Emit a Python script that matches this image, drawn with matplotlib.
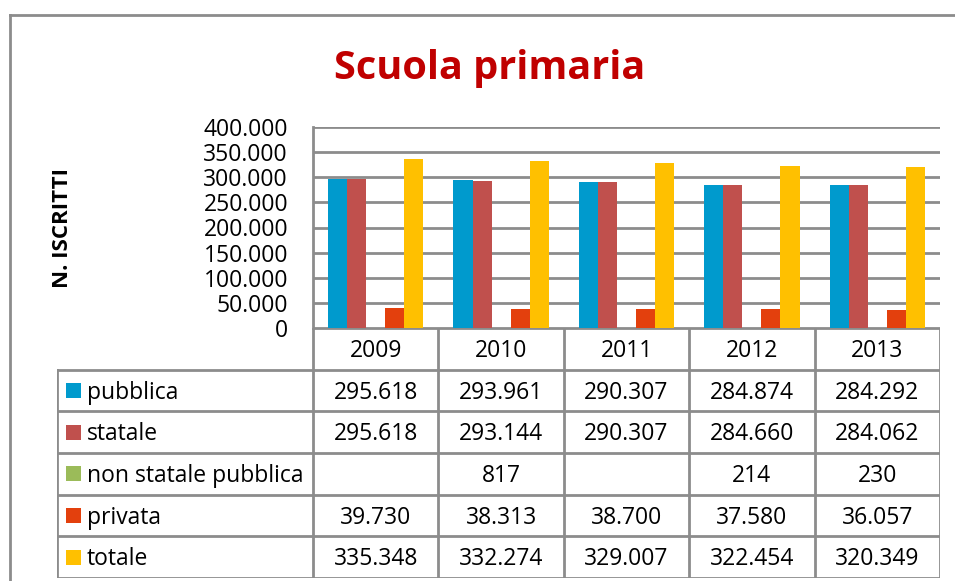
import matplotlib
matplotlib.use("Agg")
import matplotlib.pyplot as plt
import numpy as np
from matplotlib.lines import Line2D
from matplotlib.patches import Rectangle

years = ["2009", "2010", "2011", "2012", "2013"]
series_names = ["pubblica", "statale", "non statale pubblica", "privata", "totale"]
pubblica = [295618, 293961, 290307, 284874, 284292]
statale = [295618, 293144, 290307, 284660, 284062]
non_statale_pubblica = [np.nan, 817, np.nan, 214, 230]
privata = [39730, 38313, 38700, 37580, 36057]
totale = [335348, 332274, 329007, 322454, 320349]
yticks = [0, 50000, 100000, 150000, 200000, 250000, 300000, 350000, 400000]

series_values = [pubblica, statale, non_statale_pubblica, privata, totale]
colors = ["#009ACD", "#C0504D", "#9BBB59", "#E3400D", "#FFC000"]
GRID = "#8C8C8C"
FONT = "Open Sans"
FS = 16.5

def fmt(v):
    if v is None or (isinstance(v, float) and np.isnan(v)):
        return ""
    return f"{int(v):,}".replace(",", ".")

W, H = 955, 581
fig = plt.figure(figsize=(W / 100, H / 100), dpi=100)
plt.rcParams['font.family'] = [FONT, 'DejaVu Sans']

def fx(px):
    return px / W

def fy(py):
    return 1 - py / H

# outer chart border (cropped on right/bottom)
fig.add_artist(Line2D([fx(10), fx(10)], [fy(15), fy(600)], color=GRID, lw=2, transform=fig.transFigure))
fig.add_artist(Line2D([fx(10), fx(970)], [fy(15), fy(15)], color=GRID, lw=2, transform=fig.transFigure))

# title
fig.text(fx(490), fy(68), "Scuola primaria", ha="center", va="center",
         fontsize=28.5, fontweight="bold", color="#C00000")

# bar axes
L, R, T, B = 313, 940, 127, 328
ax = fig.add_axes([fx(L), fy(B), fx(R - L), fy(T) - fy(B)])
n = len(years)
x = np.arange(n)
bw = 0.152
for i, (vals, c) in enumerate(zip(series_values, colors)):
    ax.bar(x + (i - 2) * bw, vals, width=bw, color=c, zorder=3, linewidth=0)
ax.set_xlim(-0.5, n - 0.5)
ax.set_ylim(0, 400000)
ax.set_yticks(yticks)
ax.set_yticklabels([fmt(v) for v in yticks], fontsize=FS)
ax.tick_params(axis="y", length=0, pad=18)
ax.set_xticks([])
ax.yaxis.grid(True, color=GRID, lw=2, zorder=0)
for s in ["top", "right", "bottom"]:
    ax.spines[s].set_visible(False)
ax.spines["left"].set_color(GRID)
ax.spines["left"].set_linewidth(2)
ax.set_facecolor("none")
fig.text(fx(62), fy(228), "N. ISCRITTI", rotation=90, ha="center", va="center",
         fontsize=16, fontweight="bold")

# data table axes
TL, TB = 57, 578
tax = fig.add_axes([fx(TL), fy(TB), fx(R - TL), fy(B) - fy(TB)])
left_u = -0.5 - (L - TL) / ((R - L) / n)
tax.set_xlim(left_u, n - 0.5)
nrows = len(series_names) + 1
tax.set_ylim(nrows, 0)
tax.axis("off")
lk = dict(color=GRID, lw=2, solid_capstyle="projecting")
# horizontal lines
tax.plot([-0.5, n - 0.5], [0, 0], **lk)
for r in range(1, nrows + 1):
    tax.plot([left_u, n - 0.5], [r, r], **lk)
# vertical lines
for c in range(n + 1):
    tax.plot([c - 0.5, c - 0.5], [0, nrows], **lk)
tax.plot([left_u, left_u], [1, nrows], **lk)
dy = 0.05
for c, yr in enumerate(years):
    tax.text(c, 0.5 + dy, yr, ha="center", va="center", fontsize=FS)
for r, (name, vals, col) in enumerate(zip(series_names, series_values, colors)):
    yc = r + 1.5
    tax.add_patch(Rectangle((left_u + 0.07, yc - 0.18), 0.12, 0.36, color=col, lw=0))
    tax.text(left_u + 0.24, yc + dy, name, ha="left", va="center", fontsize=FS)
    for c, v in enumerate(vals):
        tax.text(c, yc + dy, fmt(v), ha="center", va="center", fontsize=FS)

fig.savefig("out.png", dpi=100)
